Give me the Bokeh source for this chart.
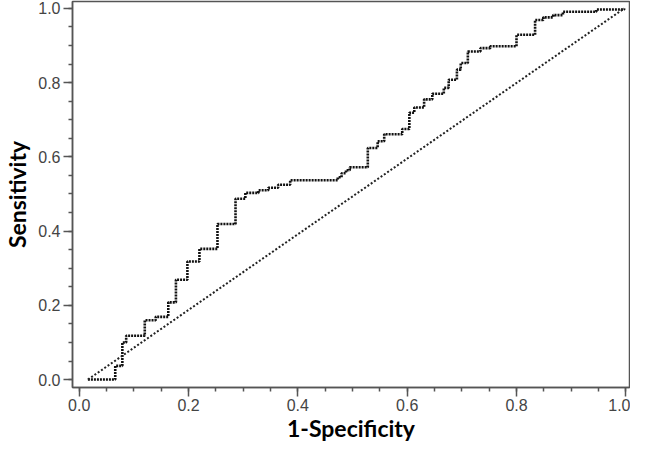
from bokeh.plotting import figure
from bokeh.models import FixedTicker, PrintfTickFormatter, Range1d, ColumnDataSource
from bokeh.embed import file_html
from bokeh.resources import INLINE

# ROC curve: (1-specificity, sensitivity) step points (value jumps at each x)
fpr = [0.016, 0.066, 0.079, 0.086, 0.120, 0.140, 0.163, 0.177, 0.198, 0.220,
       0.253, 0.286, 0.304, 0.328, 0.346, 0.364, 0.386, 0.473, 0.480, 0.488,
       0.495, 0.528, 0.546, 0.558, 0.591, 0.604, 0.613, 0.631, 0.646, 0.667,
       0.676, 0.691, 0.698, 0.711, 0.734, 0.752, 0.800, 0.834, 0.849, 0.867,
       0.885, 0.946, 0.997]
tpr = [0.000, 0.037, 0.100, 0.118, 0.160, 0.169, 0.208, 0.269, 0.318, 0.352,
       0.419, 0.487, 0.503, 0.510, 0.517, 0.525, 0.537, 0.545, 0.556, 0.564,
       0.572, 0.624, 0.642, 0.661, 0.675, 0.719, 0.733, 0.755, 0.770, 0.786,
       0.808, 0.835, 0.853, 0.884, 0.893, 0.898, 0.929, 0.969, 0.976, 0.982,
       0.991, 0.997, 1.000]

# reference diagonal
diag_x = [0.016, 0.997]
diag_y = [0.0, 1.0]

major_ticks = [0.0, 0.2, 0.4, 0.6, 0.8, 1.0]
minor_ticks = [i * 0.05 for i in range(21)]

p = figure(width=630, height=447, output_backend="svg", toolbar_location=None,
           x_range=Range1d(-0.0122, 1.0067), y_range=Range1d(-0.0214, 1.0187),
           min_border_left=68, min_border_right=1, min_border_top=1,
           min_border_bottom=60)

p.grid.visible = False
p.outline_line_color = "#555555"
p.outline_line_width = 1.5
p.background_fill_color = "white"
p.border_fill_color = "white"

src = ColumnDataSource(dict(x=fpr, y=tpr))
p.step("x", "y", source=src, mode="after", line_color="#111111",
       line_width=2.6, line_dash="2 1")
p.line(diag_x, diag_y, line_color="#222222", line_width=2.0, line_dash="2 2")

for ax in (p.xaxis[0], p.yaxis[0]):
    ax.ticker = FixedTicker(ticks=major_ticks, minor_ticks=minor_ticks)
    ax.formatter = PrintfTickFormatter(format="%.1f")
    ax.major_tick_out = 9
    ax.major_tick_in = 0
    ax.minor_tick_out = 4
    ax.minor_tick_in = 0
    ax.axis_line_color = "#555555"
    ax.axis_line_width = 1.5
    ax.major_tick_line_color = "#555555"
    ax.major_tick_line_width = 1.5
    ax.minor_tick_line_color = "#555555"
    ax.minor_tick_line_width = 1.5
    ax.major_label_text_font = "Liberation Sans"
    ax.major_label_text_font_size = "16px"
    ax.major_label_text_color = "#444444"
    ax.axis_label_text_font = "Lato"
    ax.axis_label_text_font_style = "bold"
    ax.axis_label_text_font_size = "23px"
    ax.axis_label_text_color = "#000000"

p.xaxis.axis_label = "1-Specificity"
p.yaxis.axis_label = "Sensitivity"
p.xaxis.major_label_standoff = 2
p.xaxis.axis_label_standoff = 0
p.yaxis.major_label_standoff = 3
p.yaxis.axis_label_standoff = 4

open("out.html", "w").write(file_html(p, INLINE))
